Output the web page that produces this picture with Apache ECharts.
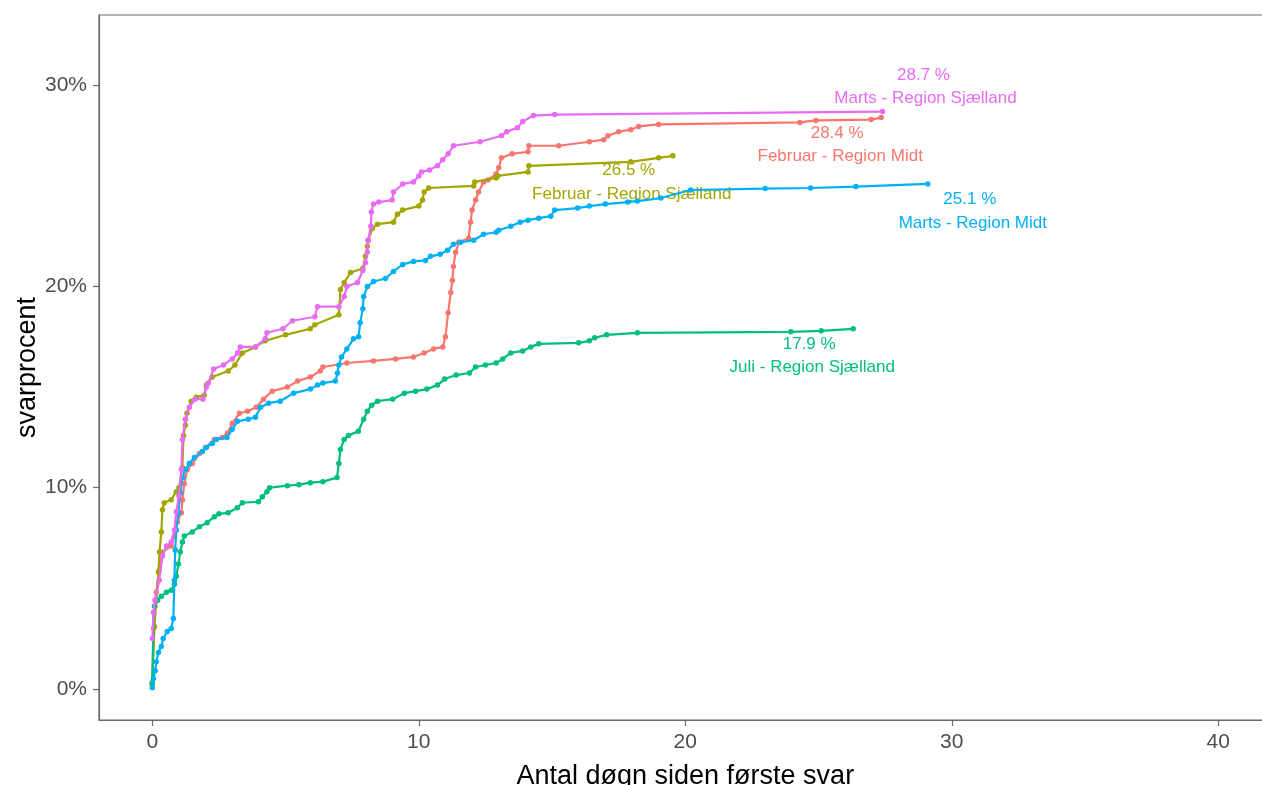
<!DOCTYPE html>
<html lang="da">
<head>
<meta charset="utf-8">
<title>Svarprocent</title>
<script src="https://cdn.jsdelivr.net/npm/echarts@6/dist/echarts.min.js"></script>
<style>
  html, body { margin: 0; padding: 0; background: #ffffff; }
  #chart { width: 1262px; height: 785px; }
</style>
</head>
<body>
<div id="chart"></div>
<script>
// Cumulative response rate (%) by days since the first answer, one array per survey round.
const febMidt = [
  [0, 0.3], [0.05, 3.0], [0.1, 4.1], [0.15, 4.8], [0.26, 5.9], [0.38, 6.8], [0.71, 7.1], [0.83, 7.6],
  [0.94, 8.3], [1.09, 8.75], [1.13, 9.4], [1.2, 10.2], [1.31, 10.9], [1.5, 11.2], [1.77, 11.7], [2.0, 12.0],
  [2.33, 12.4], [2.63, 12.5], [2.82, 12.7], [3.0, 13.2], [3.27, 13.7], [3.57, 13.8], [3.9, 14.0], [4.17, 14.4],
  [4.5, 14.8], [5.07, 15.0], [5.45, 15.3], [5.93, 15.5], [6.3, 15.8], [6.4, 16.0], [7.3, 16.2], [8.3, 16.3],
  [9.13, 16.4], [9.8, 16.5], [10.2, 16.7], [10.55, 16.9], [10.9, 17.0], [11.0, 17.5], [11.1, 18.7], [11.2, 19.7],
  [11.26, 20.3], [11.3, 21.0], [11.38, 21.7], [11.5, 22.2], [11.87, 22.4], [11.94, 23.2], [12.0, 23.8], [12.13, 24.3],
  [12.24, 24.7], [12.43, 25.2], [12.6, 25.3], [12.9, 25.6], [13.0, 25.9], [13.1, 26.4], [13.5, 26.6], [14.1, 26.7],
  [14.13, 27.0], [15.25, 27.0], [16.4, 27.2], [16.94, 27.3], [17.1, 27.5], [17.5, 27.7], [17.95, 27.8], [18.25, 27.96],
  [19.0, 28.06], [24.3, 28.16], [24.9, 28.26], [26.97, 28.3], [27.35, 28.4]
];
const febSjaelland = [
  [0, 0.2], [0.08, 3.1], [0.15, 4.4], [0.23, 5.8], [0.27, 6.8], [0.34, 7.8], [0.38, 8.9], [0.45, 9.25],
  [0.71, 9.4], [0.9, 9.8], [1.0, 10.0], [1.13, 11.0], [1.17, 12.6], [1.24, 13.1], [1.3, 13.7], [1.46, 14.3],
  [1.65, 14.5], [1.95, 14.6], [2.03, 15.1], [2.25, 15.5], [2.85, 15.8], [3.1, 16.1], [3.38, 16.7], [3.87, 17.0],
  [4.24, 17.3], [5.0, 17.6], [5.93, 17.9], [6.1, 18.1], [7.0, 18.6], [7.06, 19.85], [7.2, 20.2], [7.44, 20.7],
  [7.9, 20.9], [8.0, 21.5], [8.07, 22.0], [8.1, 22.3], [8.26, 22.9], [8.45, 23.1], [9.05, 23.2], [9.2, 23.6],
  [9.39, 23.8], [10.0, 24.0], [10.14, 24.3], [10.2, 24.7], [10.37, 24.9], [12.06, 25.0], [12.1, 25.2], [12.9, 25.4],
  [12.96, 25.5], [14.1, 25.7], [14.13, 26.0], [17.95, 26.2], [19.0, 26.4], [19.53, 26.5]
];
const juliSjaelland = [
  [0, 0.3], [0.05, 3.8], [0.08, 4.1], [0.2, 4.4], [0.34, 4.6], [0.53, 4.8], [0.71, 4.9], [0.83, 5.2],
  [0.9, 5.6], [0.98, 6.2], [1.05, 6.8], [1.13, 7.3], [1.2, 7.6], [1.5, 7.8], [1.77, 8.06], [2.06, 8.26],
  [2.33, 8.56], [2.5, 8.7], [2.85, 8.75], [3.19, 9.0], [3.38, 9.25], [3.98, 9.3], [4.13, 9.55], [4.3, 9.8],
  [4.4, 10.0], [5.07, 10.1], [5.5, 10.15], [5.93, 10.25], [6.4, 10.3], [6.93, 10.5], [7.0, 11.2], [7.06, 11.9],
  [7.2, 12.4], [7.36, 12.6], [7.73, 12.8], [7.93, 13.4], [8.07, 13.8], [8.23, 14.1], [8.45, 14.3], [9.02, 14.4],
  [9.46, 14.7], [9.88, 14.8], [10.3, 14.9], [10.7, 15.1], [10.97, 15.4], [11.4, 15.6], [11.9, 15.7], [12.13, 16.0],
  [12.5, 16.1], [12.9, 16.2], [13.15, 16.4], [13.45, 16.7], [13.9, 16.8], [14.2, 17.0], [14.5, 17.15], [16.0, 17.2],
  [16.4, 17.3], [16.6, 17.45], [17.05, 17.6], [18.2, 17.7], [23.96, 17.75], [25.1, 17.8], [26.3, 17.9]
];
const martsMidt = [
  [0, 0.05], [0.04, 0.5], [0.11, 0.9], [0.15, 1.35], [0.23, 1.8], [0.34, 2.1], [0.41, 2.5], [0.56, 2.85],
  [0.71, 3.0], [0.79, 3.5], [0.83, 5.4], [0.86, 6.9], [0.9, 7.9], [0.98, 8.75], [1.05, 9.75], [1.13, 10.5],
  [1.24, 10.9], [1.39, 11.2], [1.58, 11.5], [1.88, 11.8], [2.03, 12.0], [2.25, 12.2], [2.4, 12.4], [2.8, 12.5],
  [3.0, 12.9], [3.2, 13.3], [3.6, 13.4], [3.87, 13.5], [4.06, 14.0], [4.36, 14.2], [4.8, 14.3], [5.3, 14.7],
  [5.93, 14.9], [6.2, 15.1], [6.4, 15.2], [6.87, 15.3], [6.95, 15.7], [7.0, 16.1], [7.1, 16.5], [7.3, 16.9],
  [7.55, 17.4], [7.74, 17.5], [7.8, 18.2], [7.9, 18.9], [7.93, 19.5], [8.07, 20.0], [8.3, 20.25], [8.75, 20.4],
  [9.05, 20.75], [9.4, 21.1], [9.8, 21.25], [10.25, 21.3], [10.44, 21.5], [10.8, 21.6], [11.08, 21.8], [11.3, 22.1],
  [11.57, 22.2], [12.06, 22.3], [12.43, 22.6], [12.9, 22.7], [13.0, 22.8], [13.45, 23.0], [13.8, 23.2], [14.1, 23.3],
  [14.5, 23.4], [14.95, 23.5], [15.1, 23.8], [15.96, 23.9], [16.4, 24.0], [17.0, 24.1], [17.84, 24.2], [18.2, 24.25],
  [19.08, 24.4], [20.2, 24.8], [23.0, 24.87], [24.7, 24.9], [26.4, 24.97], [29.1, 25.1]
];
const martsSjaelland = [
  [0, 2.5], [0.05, 3.8], [0.1, 4.4], [0.26, 5.4], [0.38, 6.6], [0.53, 7.1], [0.71, 7.3], [0.83, 7.9],
  [0.9, 8.8], [1.0, 9.6], [1.09, 10.9], [1.13, 12.4], [1.24, 13.4], [1.39, 14.0], [1.6, 14.4], [1.9, 14.4],
  [2.03, 15.0], [2.1, 15.2], [2.3, 15.9], [2.67, 16.1], [3.0, 16.4], [3.2, 16.7], [3.3, 17.0], [3.87, 17.0],
  [4.24, 17.4], [4.3, 17.7], [4.9, 17.9], [5.26, 18.3], [6.1, 18.5], [6.2, 19.0], [7.0, 19.0], [7.2, 19.5],
  [7.3, 20.0], [7.7, 20.2], [7.9, 20.8], [8.0, 21.2], [8.07, 21.7], [8.1, 22.3], [8.2, 23.0], [8.22, 23.7],
  [8.3, 24.1], [8.5, 24.2], [9.0, 24.3], [9.05, 24.7], [9.4, 25.1], [9.8, 25.2], [10.0, 25.5], [10.1, 25.7],
  [10.4, 25.8], [10.7, 26.0], [10.9, 26.3], [11.1, 26.6], [11.3, 27.0], [12.3, 27.2], [13.1, 27.5], [13.3, 27.7],
  [13.7, 27.9], [13.9, 28.2], [14.3, 28.5], [15.1, 28.55], [27.4, 28.7]
];

const roundNames = [
  'Februar - Region Midt',
  'Februar - Region Sjælland',
  'Juli - Region Sjælland',
  'Marts - Region Midt',
  'Marts - Region Sjælland'
];
const roundData = [febMidt, febSjaelland, juliSjaelland, martsMidt, martsSjaelland];

const dayTicks = [0, 10, 20, 30, 40];
const pctTicks = [0, 10, 20, 30];

// Styling
const colors = ['#F8766D', '#A3A500', '#00BF7D', '#00B0F6', '#E76BF3'];
// pixel offsets of the end-of-line annotations: [value label, round name]
const labelOffsets = [
  [[-44, 16], [-41, 39]],
  [[-44, 15], [-41, 39]],
  [[-44, 16], [-41, 39]],
  [[42, 15], [45, 39]],
  [[41, -36], [43, -13]]
];
const FONT = '"Liberation Sans", Arial, Helvetica, sans-serif';
const AXIS_GREY = '#6b6b6b';

const series = roundData.map(function (pts, i) {
  const last = pts[pts.length - 1];
  const col = colors[i];
  return {
    name: roundNames[i],
    type: 'line',
    data: pts,
    showSymbol: true,
    showAllSymbol: true,
    symbol: 'circle',
    symbolSize: 5.5,
    lineStyle: { color: col, width: 2.2 },
    itemStyle: { color: col },
    emphasis: { disabled: true },
    z: 2 + i,
    markPoint: {
      silent: true,
      symbol: 'circle',
      symbolSize: 0,
      label: {
        show: true,
        position: 'inside',
        color: col,
        fontSize: 17,
        fontFamily: FONT,
        align: 'center',
        verticalAlign: 'middle'
      },
      data: [
        {
          coord: last,
          label: { formatter: last[1].toFixed(1) + ' %', offset: labelOffsets[i][0] }
        },
        {
          coord: last,
          label: { formatter: roundNames[i], offset: labelOffsets[i][1] }
        }
      ]
    }
  };
});

const chart = echarts.init(document.getElementById('chart'), null, { renderer: 'canvas' });
chart.setOption({
  animation: false,
  backgroundColor: '#ffffff',
  textStyle: { fontFamily: FONT },
  grid: {
    left: 99,
    right: -9.6,
    top: 15,
    bottom: 65,
    containLabel: false,
    outerBoundsMode: 'none',
    show: true,
    borderColor: AXIS_GREY,
    borderWidth: 1.2,
    backgroundColor: 'transparent'
  },
  xAxis: {
    type: 'value',
    min: -2,
    max: 42,
    name: 'Antal døgn siden første svar',
    nameLocation: 'middle',
    nameGap: 43,
    nameMoveOverlap: false,
    nameTextStyle: { color: '#000000', fontSize: 27, fontFamily: FONT },
    axisLine: { show: true, onZero: false, lineStyle: { color: AXIS_GREY, width: 1.2 } },
    axisTick: { show: true, inside: false, length: 6, customValues: dayTicks, lineStyle: { color: AXIS_GREY, width: 1.2 } },
    axisLabel: {
      show: true,
      customValues: dayTicks,
      margin: 12,
      color: '#4D4D4D',
      fontSize: 21,
      fontFamily: FONT,
      showMinLabel: true,
      showMaxLabel: true
    },
    splitLine: { show: false }
  },
  yAxis: {
    type: 'value',
    min: -1.55,
    max: 33.5,
    name: 'svarprocent',
    nameLocation: 'middle',
    nameGap: 58,
    nameRotate: 90,
    nameMoveOverlap: false,
    nameTextStyle: { color: '#000000', fontSize: 27, fontFamily: FONT },
    axisLine: { show: true, onZero: false, lineStyle: { color: AXIS_GREY, width: 1.2 } },
    axisTick: { show: true, inside: false, length: 6, customValues: pctTicks, lineStyle: { color: AXIS_GREY, width: 1.2 } },
    axisLabel: {
      show: true,
      customValues: pctTicks,
      margin: 12,
      color: '#4D4D4D',
      fontSize: 21,
      fontFamily: FONT,
      formatter: function (v) { return v + '%'; }
    },
    splitLine: { show: false }
  },
  tooltip: { show: false },
  legend: { show: false },
  series: series
});
</script>
</body>
</html>
